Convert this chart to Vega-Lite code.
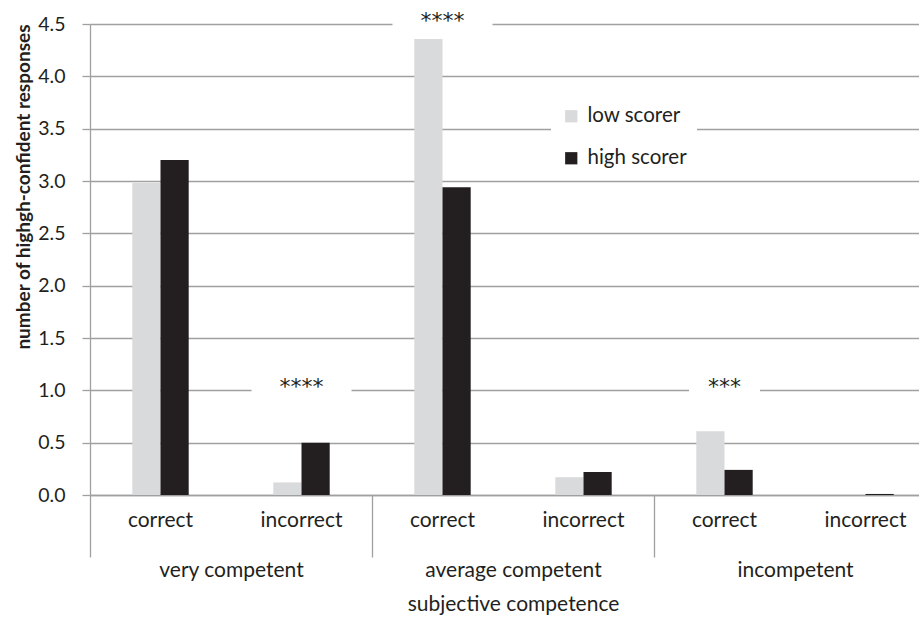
{
  "$schema": "https://vega.github.io/schema/vega-lite/v6.json",
  "width": 829,
  "height": 471,
  "autosize": "none",
  "padding": {"left": 90, "top": 24, "right": 0, "bottom": 126},
  "background": "white",
  "config": {
    "font": "Lato",
    "view": {"stroke": null},
    "axis": {"labelColor": "#231f20", "titleColor": "#231f20", "labelFont": "Lato", "titleFont": "Lato"},
    "legend": {"labelFont": "Lato"}
  },
  "datasets": {
    "bars": [
      {"group": "very competent", "cat": "very competent|correct", "scorer": "low scorer", "value": 2.98},
      {"group": "very competent", "cat": "very competent|correct", "scorer": "high scorer", "value": 3.2},
      {"group": "very competent", "cat": "very competent|incorrect", "scorer": "low scorer", "value": 0.12},
      {"group": "very competent", "cat": "very competent|incorrect", "scorer": "high scorer", "value": 0.5},
      {"group": "average competent", "cat": "average competent|correct", "scorer": "low scorer", "value": 4.37},
      {"group": "average competent", "cat": "average competent|correct", "scorer": "high scorer", "value": 2.94},
      {"group": "average competent", "cat": "average competent|incorrect", "scorer": "low scorer", "value": 0.17},
      {"group": "average competent", "cat": "average competent|incorrect", "scorer": "high scorer", "value": 0.22},
      {"group": "incompetent", "cat": "incompetent|correct", "scorer": "low scorer", "value": 0.61},
      {"group": "incompetent", "cat": "incompetent|correct", "scorer": "high scorer", "value": 0.24},
      {"group": "incompetent", "cat": "incompetent|incorrect", "scorer": "low scorer", "value": 0.0},
      {"group": "incompetent", "cat": "incompetent|incorrect", "scorer": "high scorer", "value": 0.01}
    ],
    "notes": [
      {"cat": "very competent|incorrect", "level": 1.0, "label": "****"},
      {"cat": "average competent|correct", "level": 4.5, "label": "****"},
      {"cat": "incompetent|correct", "level": 1.0, "label": "***"}
    ]
  },
  "layer": [
    {
      "data": {"name": "bars"},
      "layer": [
        {
          "mark": {"type": "bar"},
          "encoding": {
            "x": {
              "field": "cat", "type": "nominal", "sort": null, "title": null,
              "scale": {
                "domain": ["very competent|correct", "very competent|incorrect", "average competent|correct", "average competent|incorrect", "incompetent|correct", "incompetent|incorrect"],
                "range": [0, 846], "paddingInner": 0.6, "paddingOuter": 0.3
              },
              "axis": {
                "orient": "bottom", "labelExpr": "split(datum.label, '|')[1]", "labelFontSize": 21,
                "ticks": false, "labelPadding": 14, "domainColor": "#a0a0a0", "domainWidth": 1.3,
                "grid": false, "labelAngle": 0, "title": null
              }
            },
            "xOffset": {"field": "scorer", "type": "nominal", "scale": {"domain": ["low scorer", "high scorer"], "paddingInner": 0, "paddingOuter": 0}},
            "y": {
              "field": "value", "type": "quantitative", "title": "number of highgh-confident responses",
              "scale": {"domain": [0, 4.5], "nice": false, "zero": true},
              "axis": {
                "values": [0, 0.5, 1, 1.5, 2, 2.5, 3, 3.5, 4, 4.5], "format": ".1f",
                "titleFontSize": 19, "titleFontWeight": "bold", "titleAnchor": "end", "titlePadding": 4,
                "labelFontSize": 19.5, "labelPadding": 17, "tickSize": 8, "tickColor": "#a0a0a0", "tickWidth": 1.3,
                "domainColor": "#a0a0a0", "domainWidth": 1.3, "grid": true, "gridColor": "#a0a0a0", "gridWidth": 1.3
              }
            },
            "color": {
              "field": "scorer", "type": "nominal",
              "scale": {"domain": ["low scorer", "high scorer"], "range": ["#d9dadc", "#231f20"]},
              "legend": {
                "orient": "none", "legendX": 461, "legendY": 72, "title": null, "fillColor": "white",
                "padding": 10, "labelFontSize": 20.5, "symbolType": "square", "symbolSize": 150,
                "rowPadding": 21, "labelColor": "#231f20", "symbolStrokeWidth": 0, "labelOffset": 6
              }
            }
          }
        },
        {
          "data": {"name": "notes"},
          "mark": {"type": "point", "shape": "M-1,-0.3H1V0.3H-1Z", "filled": true, "fill": "white", "opacity": 1, "strokeWidth": 0},
          "encoding": {
            "x": {"field": "cat", "type": "nominal", "title": null},
            "y": {"field": "level", "type": "quantitative", "title": "number of highgh-confident responses"},
            "size": {"field": "label", "type": "ordinal", "scale": {"domain": ["***", "****"], "range": [5041, 10000]}, "legend": null}
          }
        },
        {
          "data": {"name": "notes"},
          "mark": {"type": "text", "fontSize": 22, "color": "#231f20", "baseline": "middle", "dy": -3, "font": "DejaVu Sans"},
          "encoding": {
            "x": {"field": "cat", "type": "nominal", "title": null},
            "y": {"field": "level", "type": "quantitative", "title": "number of highgh-confident responses"},
            "text": {"field": "label"}
          }
        }
      ]
    },
    {
      "data": {"name": "bars"},
      "mark": {"type": "point", "opacity": 0},
      "encoding": {
        "x": {
          "field": "group", "type": "nominal", "sort": null, "title": "subjective competence",
          "scale": {"domain": ["very competent", "average competent", "incompetent"], "range": [0, 846], "paddingInner": 0, "paddingOuter": 0},
          "axis": {
            "orient": "bottom", "tickBand": "extent", "tickSize": 62, "tickColor": "#a0a0a0", "tickWidth": 1.3,
            "domain": false, "labelPadding": 2, "labelFontSize": 21, "labelAngle": 0,
            "titleFontSize": 21, "titleFontWeight": "normal", "titlePadding": 13, "grid": false
          }
        }
      }
    }
  ],
  "resolve": {"scale": {"x": "independent"}}
}
